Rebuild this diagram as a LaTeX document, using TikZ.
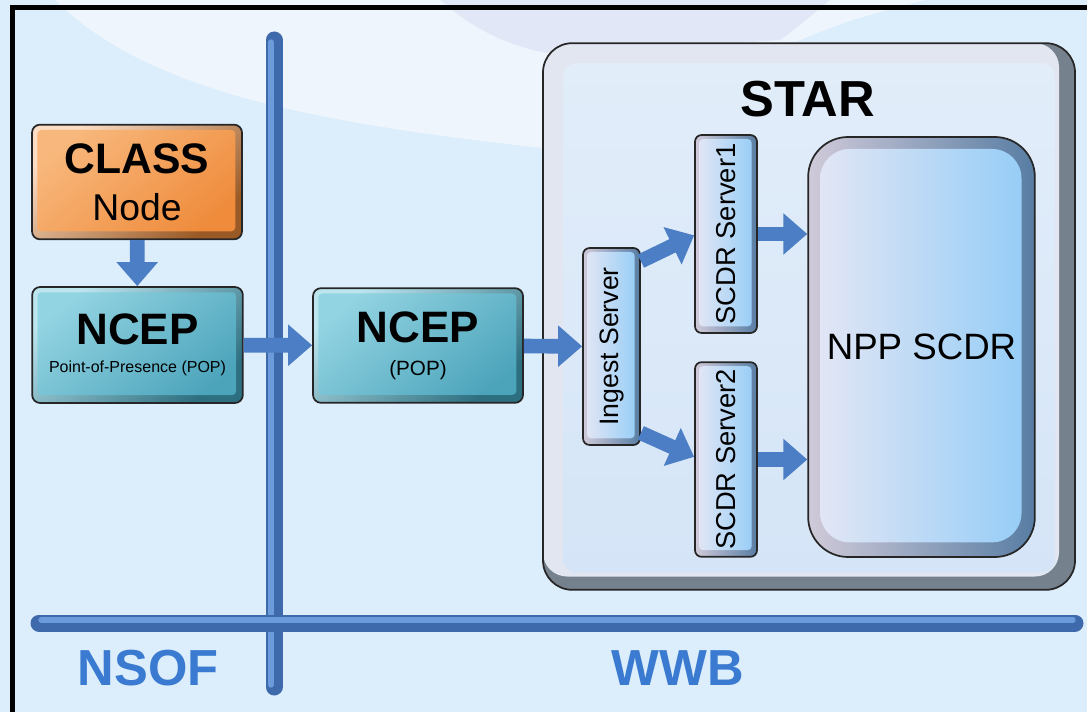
\documentclass[tikz,border=0pt]{standalone}
\usepackage{fontspec}
\setmainfont{Liberation Sans}
\usepackage{graphicx}
\usetikzlibrary{arrows.meta,calc}

\definecolor{bgblue}{HTML}{DCEDFB}
\definecolor{bglight}{HTML}{EEF5FD}
\definecolor{bglilac}{HTML}{E2E7F7}
\definecolor{barblue}{HTML}{3E6AAC}
\definecolor{barlight}{HTML}{6B9BDA}
\definecolor{arrowblue}{HTML}{4C7EC6}
\definecolor{labelblue}{HTML}{3A7AD0}
\definecolor{frameedge}{HTML}{76818E}
\definecolor{framelight}{HTML}{E2E6F1}
\definecolor{framepanel}{HTML}{D5E5F7}
\definecolor{classlight}{HTML}{FBDCC4}
\definecolor{classdark}{HTML}{9A5A25}
\definecolor{classtop}{HTML}{F8B87D}
\definecolor{classbot}{HTML}{EF8B3B}
\definecolor{nceplight}{HTML}{BCE5EE}
\definecolor{ncepdark}{HTML}{2D6F80}
\definecolor{nceptop}{HTML}{93D4E2}
\definecolor{ncepbot}{HTML}{4CA4BB}
\definecolor{srvlight}{HTML}{D0CAD9}
\definecolor{srvdark}{HTML}{587DA3}
\definecolor{srvpale}{HTML}{E6E7F5}
\definecolor{srvsky}{HTML}{92CCF6}

\tikzstyle{box} = [rectangle, rounded corners=6pt, draw=black!85, line width=1.3pt, align=center, inner sep=0pt]
\tikzstyle{flow} = [draw=arrowblue, line width=11pt, -{Triangle[length=18pt,width=30pt]}]
\tikzstyle{bar} = [line width=12.75pt, line cap=round, draw=barblue]
\tikzset{
  bevel/.style n args={5}{top color=#1, bottom color=#2, shading angle=40,
    path picture={\shade[rounded corners=3pt, top color=#3, bottom color=#4, shading angle=40]
      ([shift={(#5,-#5)}]path picture bounding box.north west) rectangle
      ([shift={(-#5-1pt,#5+2pt)}]path picture bounding box.south east);}},
  server/.style 2 args={box, rounded corners=5pt, left color=srvlight, right color=srvdark,
    path picture={\shade[rounded corners=#2, left color=srvpale, right color=srvsky]
      ([shift={(#1,-#1)}]path picture bounding box.north west) rectangle
      ([shift={(-#1-1pt,#1+2pt)}]path picture bounding box.south east);}},
  site/.style={font=\fontsize{38}{40}\selectfont\bfseries, text=labelblue}
}

\begin{document}
\begin{tikzpicture}[x=0.75pt, y=-0.75pt]
\useasboundingbox (0,0) rectangle (1087,712);
\fill[bgblue] (0,0) rectangle (1087,712);
\fill[bglight] (55,0) .. controls (150,95) and (330,125) .. (560,150) -- (800,40) .. controls (850,20) .. (925,0) -- cycle;
\fill[bglilac] (440,0) .. controls (480,35) and (520,50) .. (560,55) -- (780,40) .. controls (800,25) .. (830,0) -- cycle;
\draw[line width=3.75pt, line join=miter] (12.5,712) -- (12.5,7.5) -- (1087,7.5);

% site bars
\draw[bar] (274,40) -- (274,687);
\draw[line width=4pt, line cap=round, draw=barlight] (271,42) -- (271,685);
\draw[bar] (39,623) -- (1075,623);
\draw[line width=4pt, line cap=round, draw=barlight] (41,620) -- (1073,620);

\node (nsof) [site] at (148,668) {NSOF};
\node (wwb) [site] at (678,668) {WWB};

% STAR frame
\node (star) [rectangle, rounded corners=22pt, draw=black!85, line width=1.3pt, fill=frameedge,
  minimum width=399pt, minimum height=410pt,
  path picture={
   \fill[rounded corners=18pt, framelight] (path picture bounding box.north west) rectangle ([shift={(-12pt,10pt)}]path picture bounding box.south east);
   \shade[rounded corners=10pt, top color=framepanel!70!white, bottom color=framepanel]
    ([shift={(15pt,-15pt)}]path picture bounding box.north west) rectangle ([shift={(-15pt,13pt)}]path picture bounding box.south east);}]
  at (809,316.5) {};
\node (starlbl) at (808,99) {\fontsize{38}{40}\selectfont\bfseries STAR};

\node (class) [box, minimum width=157.5pt, minimum height=86pt, font=\fontsize{28}{35}\selectfont,
  bevel={classlight}{classdark}{classtop}{classbot}{4pt}]
  at (137,182) {{\fontsize{32}{35}\selectfont\bfseries CLASS}\\Node};

\node (ncepA) [box, minimum width=158pt, minimum height=87pt, font=\fontsize{12}{21}\selectfont,
  bevel={nceplight}{ncepdark}{nceptop}{ncepbot}{4pt}]
  at (137.5,345) {{\fontsize{33}{21}\selectfont\bfseries NCEP}\\Point-of-Presence (POP)};

\node (ncepB) [box, minimum width=157.5pt, minimum height=86pt, font=\fontsize{15.5}{25}\selectfont,
  bevel={nceplight}{ncepdark}{nceptop}{ncepbot}{4pt}]
  at (418,345.5) {{\fontsize{33}{25}\selectfont\bfseries NCEP}\\(POP)};

\node (ingest) [server={3pt}{3pt}, minimum width=42.75pt, minimum height=147.75pt]
  at (611.5,346.5) {\rotatebox{90}{\fontsize{20}{24}\selectfont Ingest Server}};

\node (scdrA) [server={3pt}{3pt}, minimum width=46.5pt, minimum height=148.5pt]
  at (726,234) {\rotatebox{90}{\fontsize{20.5}{24}\selectfont SCDR Server1}};

\node (scdrB) [server={3pt}{3pt}, minimum width=46.5pt, minimum height=146pt]
  at (726,459.5) {\rotatebox{90}{\fontsize{20.5}{24}\selectfont SCDR Server2}};

\node (npp) [server={9pt}{22pt}, rounded corners=30pt, minimum width=170pt, minimum height=315pt]
  at (921.5,347) {\fontsize{27.5}{30}\selectfont NPP SCDR};

% data flow
\draw[flow] (class) -- (ncepA);
\draw[flow] (ncepA) -- (ncepB);
\draw[flow] (ncepB) -- (ingest);
\draw[flow] ([yshift=-10.5pt]ingest.north east) -- ([yshift=-1pt]scdrA.west);
\draw[flow] ([yshift=9.75pt]ingest.south east) -- ([yshift=2pt]scdrB.west);
\draw[flow] (scdrA.east) -- (scdrA.east -| npp.west);
\draw[flow] (scdrB.east) -- (scdrB.east -| npp.west);
\end{tikzpicture}
\end{document}
